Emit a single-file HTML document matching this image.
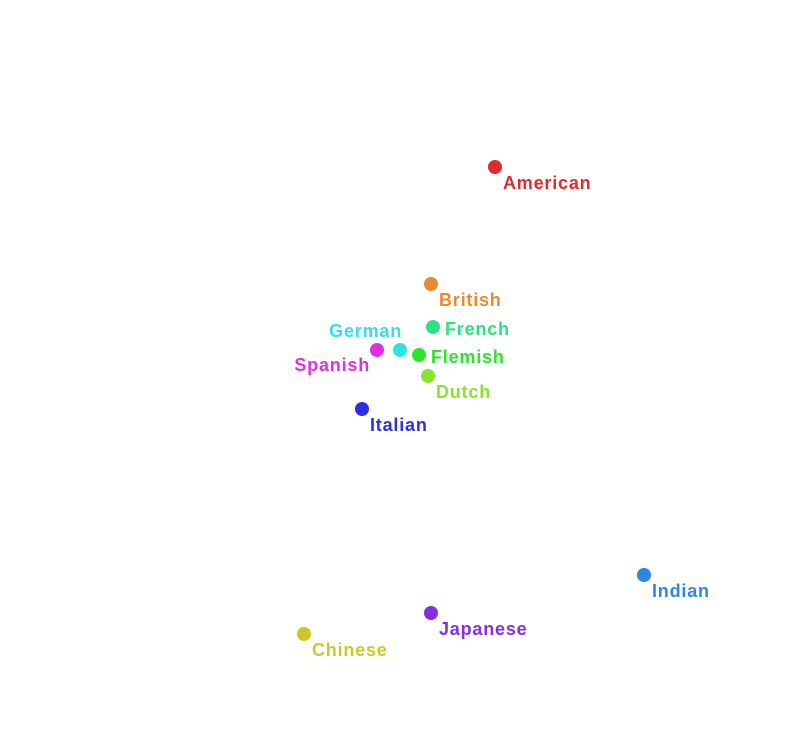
<!DOCTYPE html>
<html><head><meta charset="utf-8"><style>
html,body{margin:0;padding:0;background:#fff;}
svg text{font-family:"Liberation Sans",sans-serif;font-weight:bold;font-size:18px;letter-spacing:0.8px;dominant-baseline:central;}
</style></head><body>
<svg id="chart" width="800" height="746" xmlns="http://www.w3.org/2000/svg"></svg>
<script>
const labels=["American","British","French","German","Spanish","Flemish","Dutch","Italian","Indian","Japanese","Chinese"];
const xValues=[0.95,0.31,0.33,0.00,-0.23,0.19,0.28,-0.38,2.44,0.31,-0.96];
const yValues=[2.33,1.16,0.73,0.50,0.50,0.45,0.24,-0.09,-1.75,-2.13,-2.34];
const colors=["#e32929","#e88a2e","#2ee083","#2ee3e3","#e32ee3","#2ee32e","#8ae32e","#2e2ee3","#2e86e3","#862ee3","#c9c92e"];
const labelPos=["rb","rb","r","lt","lb","r","rb","rb","rb","rb","rb"];
function xScale(v){return 400+v*100;}
function yScale(v){return 400-v*100;}
const svg=document.getElementById('chart');
const NS="http://www.w3.org/2000/svg";
for(let i=0;i<labels.length;i++){
  const cx=xScale(xValues[i]),cy=yScale(yValues[i]);
  const c=document.createElementNS(NS,'circle');
  
  
  c.setAttribute('cx',cx);c.setAttribute('cy',cy);c.setAttribute('r',7);
  c.setAttribute('fill',colors[i]);
  svg.appendChild(c);
  const t=document.createElementNS(NS,'text');
  
  
  let dx=8,dy=16,anchor='start';
  if(labelPos[i]==='r'){dx=12;dy=2;}
  if(labelPos[i]==='lt'){dx=2;dy=-19;anchor='end';}
  if(labelPos[i]==='lb'){dx=-7;dy=15;anchor='end';}
  t.setAttribute('x',cx+dx);t.setAttribute('y',cy+dy);
  t.setAttribute('text-anchor',anchor);
  t.setAttribute('fill',colors[i]);
  t.textContent=labels[i];
  svg.appendChild(t);
}
</script>
</body></html>
